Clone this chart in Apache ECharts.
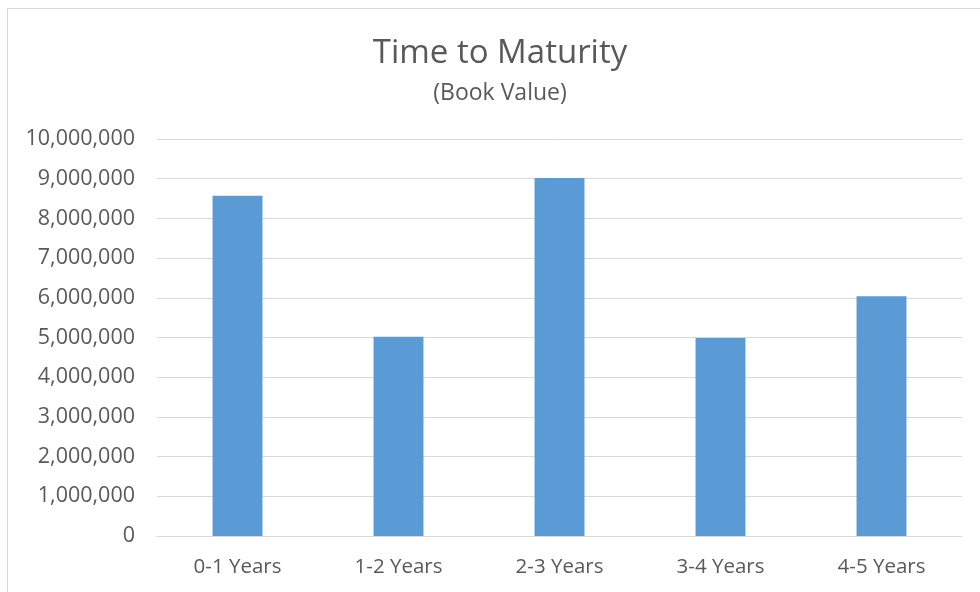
<!DOCTYPE html>
<html>
<head>
<meta charset="utf-8">
<script src="https://cdn.jsdelivr.net/npm/echarts@6/dist/echarts.min.js"></script>
<style>
  html, body { margin: 0; padding: 0; background: #fff; }
  #wrap { position: relative; width: 980px; height: 592px; overflow: hidden; }
  /* chart frame like the spreadsheet chart area */
  #frame { position: absolute; left: 7px; top: 8px; width: 990px; height: 600px;
           border: 1px solid #d9d9d9; box-sizing: border-box; }
  #main { position: absolute; left: 0; top: 0; width: 980px; height: 592px; }
</style>
</head>
<body>
<div id="wrap">
  <div id="frame"></div>
  <div id="main"></div>
</div>
<script>
// categories and values
var categories = ['0-1 Years', '1-2 Years', '2-3 Years', '3-4 Years', '4-5 Years'];
var bookValues = [8570000, 5020000, 9020000, 4990000, 6040000];
var yMin = 0;
var yMax = 10000000;
var yStep = 1000000;

var textColor = '#595959';
var fontName = 'Open Sans';

var myChart = echarts.init(document.getElementById('main'));

var option = {
  backgroundColor: 'transparent',
  animation: false,
  title: [{
    text: 'Time to Maturity',
    left: 495,
    top: 32,
    textAlign: 'center',
    textStyle: { color: textColor, fontFamily: fontName, fontSize: 33, fontWeight: 'normal' }
  }, {
    text: '(Book Value)',
    left: 495,
    top: 77,
    textAlign: 'center',
    textStyle: { color: textColor, fontFamily: fontName, fontSize: 23, fontWeight: 'normal' }
  }],
  grid: {
    left: 157,
    right: 18,
    top: 139,
    bottom: 56,
    containLabel: false
  },
  xAxis: {
    type: 'category',
    data: categories,
    axisTick: { show: false },
    axisLine: { show: true, lineStyle: { color: '#d9d9d9', width: 1 } },
    axisLabel: { color: textColor, fontFamily: fontName, fontSize: 20.5, margin: 21 }
  },
  yAxis: {
    type: 'value',
    min: yMin,
    max: yMax,
    interval: yStep,
    axisLine: { show: false },
    axisTick: { show: false },
    splitLine: { lineStyle: { color: '#d9d9d9', width: 1 } },
    axisLabel: {
      color: textColor,
      fontFamily: fontName,
      fontSize: 21.5,
      margin: 22,
      formatter: function (v) { return v.toLocaleString('en-US'); }
    }
  },
  series: [{
    name: 'Book Value',
    type: 'bar',
    data: bookValues,
    barWidth: '31%',
    itemStyle: { color: '#5b9bd5' }
  }]
};

myChart.setOption(option);
</script>
</body>
</html>
